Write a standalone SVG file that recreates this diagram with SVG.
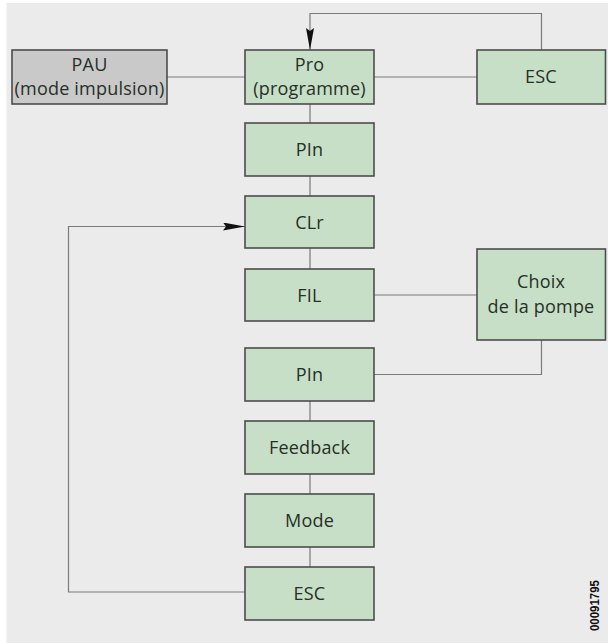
<svg xmlns="http://www.w3.org/2000/svg" width="608" height="643" viewBox="0 0 608 643">
<style>
.box{fill:#c6dfc6;stroke:#4d4d4d;stroke-width:1.6}
.gray{fill:#c9c9c9;stroke:#4d4d4d;stroke-width:1.6}
.t{font-family:"Open Sans","Noto Sans",sans-serif;font-size:18px;letter-spacing:0.2px;fill:#263026;text-anchor:middle}
.c{fill:none;stroke:#7a7a7a;stroke-width:1.2}
</style>
<defs>
<marker id="ah" markerWidth="22" markerHeight="8" refX="22" refY="4" orient="auto" markerUnits="userSpaceOnUse">
<path d="M0,0 L22,4 L0,8 L3,4 Z" fill="#111"/>
</marker>
</defs>
<rect x="0" y="0" width="608" height="643" fill="#ffffff"/>
<rect x="6.5" y="3" width="601.5" height="640" fill="#ebebeb"/>
<g id="connectors">
<path class="c" d="M167,77 H245"/>
<path class="c" d="M374,77 H477"/>
<path class="c" d="M541.5,50 V13.5 H310 V50" marker-end="url(#ah)"/>
<path class="c" d="M310,104 V123"/>
<path class="c" d="M310,176 V196"/>
<path class="c" d="M310,248 V269"/>
<path class="c" d="M374,295 H477"/>
<path class="c" d="M541.5,340 V374.5 H374"/>
<path class="c" d="M310,401 V421"/>
<path class="c" d="M310,474 V494"/>
<path class="c" d="M310,547 V567"/>
<path class="c" d="M245,592 H68.5 V226.5 H245" marker-end="url(#ah)"/>
</g>
<g id="pau"><rect class="gray" x="12" y="50" width="155" height="54"/><text class="t" x="89.5" y="71">PAU</text><text class="t" x="89.5" y="95">(mode impulsion)</text></g>
<g id="pro"><rect class="box" x="245" y="50" width="129" height="54"/><text class="t" x="309.5" y="71">Pro</text><text class="t" x="309.5" y="95">(programme)</text></g>
<g id="esc-top"><rect class="box" x="477" y="50" width="128.5" height="54"/><text class="t" x="541" y="83">ESC</text></g>
<g id="pin1"><rect class="box" x="245" y="123" width="129" height="53"/><text class="t" x="309.5" y="156">PIn</text></g>
<g id="clr"><rect class="box" x="245" y="196" width="129" height="52"/><text class="t" x="309.5" y="228.5">CLr</text></g>
<g id="fil"><rect class="box" x="245" y="269" width="129" height="52"/><text class="t" x="309.5" y="301.5">FIL</text></g>
<g id="choix"><rect class="box" x="477" y="249" width="128.5" height="91"/><text class="t" x="541" y="288">Choix</text><text class="t" x="541" y="312.5">de la pompe</text></g>
<g id="pin2"><rect class="box" x="245" y="348" width="129" height="53"/><text class="t" x="309.5" y="381">PIn</text></g>
<g id="feedback"><rect class="box" x="245" y="421" width="129" height="53"/><text class="t" x="309.5" y="454">Feedback</text></g>
<g id="mode"><rect class="box" x="245" y="494" width="129" height="53"/><text class="t" x="309.5" y="527">Mode</text></g>
<g id="esc-bottom"><rect class="box" x="245" y="567" width="129" height="53"/><text class="t" x="309.5" y="600">ESC</text></g>
<text x="599" y="631" transform="rotate(-90 599 631)" font-family="'Liberation Sans',Arial,sans-serif" font-weight="bold" font-size="12" fill="#111" textLength="51" lengthAdjust="spacingAndGlyphs">00091795</text>
</svg>
